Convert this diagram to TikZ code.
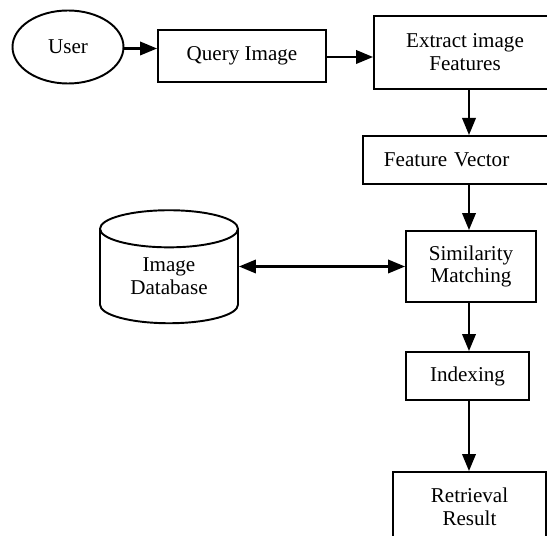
\documentclass[tikz,border=0pt]{standalone}
\usepackage{fontspec}
\setmainfont{Liberation Serif}
\usetikzlibrary{shapes.geometric, arrows.meta}

\tikzset{
    box/.style={draw, line width=1.1pt, rectangle, align=center, inner sep=0pt,
        font=\fontsize{12}{13}\selectfont},
    arrow/.style={line width=1.2pt, -{Triangle[length=3.4mm,width=2.7mm]}},
    dblarrow/.style={line width=1.2pt, {Triangle[length=3.4mm,width=2.7mm]}-{Triangle[length=3.4mm,width=2.7mm]}}
}

\begin{document}
\begin{tikzpicture}
        % Frame of the picture
        \useasboundingbox (0,0) rectangle (10.94,-10.72);
        \clip (0,0) rectangle (10.94,-10.72);

        % Top row
        \node (user) [box, ellipse, minimum width=2.22cm, minimum height=1.46cm] at (1.36,-0.94) {User};
        \node (query) [box, minimum width=3.36cm, minimum height=1.04cm] at (4.84,-1.12) {Query Image};
        \node (extract) [box, minimum width=3.64cm, minimum height=1.46cm] at (9.3,-1.05) {Extract image\\Features};

        % Right column
        \coordinate (col) at (9.38,0);
        \node (fvec) [box, anchor=north west, text width=3.2cm, inner xsep=0.42cm, align=left,
            minimum height=0.96cm] at (7.24,-2.7) {Feature Vector};
        \node (simil) [box, minimum width=2.6cm, minimum height=1.42cm] at (9.42,-5.33) {Similarity\\Matching};
        \node (index) [box, minimum width=2.46cm, minimum height=0.96cm] at (9.35,-7.52) {Indexing};
        \node (result) [box, minimum width=3.06cm, minimum height=1.38cm] at (9.39,-10.13) {Retrieval\\Result};

        % Database
        \node (imgdb) [box, cylinder, shape border rotate=90, aspect=0.48,
            minimum width=2.76cm, minimum height=2.26cm] at (3.38,-5.53) {Image\\Database};

        % Connectors
        \draw[arrow] (user.east |- 0,-0.97) -- (query.west |- 0,-0.97);
        \draw[arrow] (query.east |- 0,-1.14) -- (extract.west |- 0,-1.14);
        \draw[arrow] (extract.south -| col) -- (fvec.north -| col);
        \draw[arrow] (fvec.south -| col) -- (simil.north -| col);
        \draw[dblarrow] (imgdb.east |- simil) -- (simil.west);
        \draw[arrow] (simil.south -| col) -- (index.north -| col);
        \draw[arrow] (index.south -| col) -- (result.north -| col);
    \end{tikzpicture}
\end{document}
